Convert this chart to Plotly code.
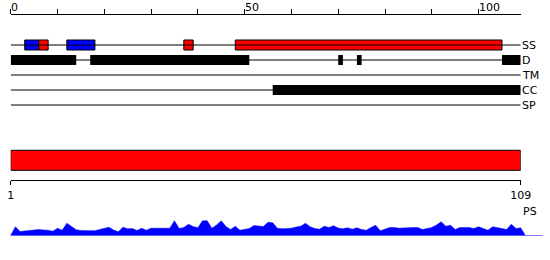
import plotly.graph_objects as go

# ---------------- data ----------------
seq_length = 109
top_tick_values = [0, 10, 20, 30, 40, 50, 60, 70, 80, 90, 100]
top_tick_labels = ["0", "", "", "", "", "50", "", "", "", "", "100"]

track_names = ["SS", "D", "TM", "CC", "SP"]

# secondary structure segments (H = helix, E = strand)
ss_start = [3, 6, 12, 37, 48]
ss_end = [6, 8, 18, 39, 105]
ss_type = ["E", "H", "E", "H", "H"]

# disorder segments
d_start = [0, 17, 70, 74, 105]
d_end = [14, 51, 71, 75, 109]

# transmembrane segments (none)
tm_start = []
tm_end = []

# coiled-coil segments
cc_start = [56]
cc_end = [109]

# signal peptide segments (none)
sp_start = []
sp_end = []

# protein sequence domain (PS)
ps_start = [0]
ps_end = [109]
ps_tick_values = [0, 109]
ps_tick_labels = ["1", "109"]

# per-residue profile (residues 1..109)
profile_residue = list(range(1, 110))
profile_value = [
    8.7, 4.0, 4.5, 4.7, 5.2, 6.0, 5.5, 5.3, 4.3, 7.3,
    5.3, 12.3, 9.0, 5.7, 5.0, 4.7, 4.7, 4.7, 6.0, 7.0,
    8.3, 5.5, 3.7, 8.3, 6.7, 7.0, 5.0, 7.3, 5.3, 7.3,
    7.2, 7.0, 7.2, 7.3, 14.7, 7.0, 8.0, 11.3, 9.0, 7.7,
    14.7, 14.7, 7.3, 10.5, 14.7, 9.0, 6.0, 9.3, 5.3, 6.0,
    7.0, 10.0, 9.5, 9.0, 13.3, 12.7, 7.3, 6.7, 7.0, 7.3,
    8.5, 9.3, 12.3, 8.7, 7.0, 6.3, 9.3, 8.0, 9.7, 7.5,
    6.7, 7.7, 6.3, 7.7, 6.0, 5.3, 8.0, 10.3, 4.7, 6.5,
    8.0, 8.0, 7.3, 7.6, 8.0, 8.0, 8.0, 6.0, 7.0, 8.0,
    10.5, 13.7, 9.3, 10.3, 6.0, 8.0, 8.0, 8.0, 7.0, 8.7,
    7.0, 5.3, 8.7, 7.5, 7.0, 6.0, 11.3, 7.0, 7.7,
]
baseline_extent = [0, 113.7]

# ---------------- styles ----------------
FONT = "DejaVu Sans"
SS_COLORS = {"H": "#ff0000", "E": "#0000ff"}
W, H = 550, 260


def py(px):
    return 1 - px / H


fig = go.Figure()

# track baselines
for i, name in enumerate(track_names):
    fig.add_trace(go.Scatter(
        x=[0, seq_length], y=[i + 1, i + 1], mode="lines",
        line=dict(color="black", width=1), xaxis="x", yaxis="y",
        hoverinfo="skip"))


def add_segments(starts, ends, row, colors, border):
    if not starts:
        return
    fig.add_trace(go.Bar(
        orientation="h",
        base=starts,
        x=[e - s for s, e in zip(starts, ends)],
        y=[row] * len(starts),
        width=0.6667,
        marker=dict(color=colors, line=dict(color="black", width=border)),
        xaxis="x", yaxis="y", hoverinfo="skip"))


add_segments(ss_start, ss_end, 1, [SS_COLORS[t] for t in ss_type], 1)
add_segments(d_start, d_end, 2, ["black"] * len(d_start), 0)
add_segments(tm_start, tm_end, 3, ["black"] * len(tm_start), 0)
add_segments(cc_start, cc_end, 4, ["black"] * len(cc_start), 0)
add_segments(sp_start, sp_end, 5, ["black"] * len(sp_start), 0)

# PS domain box
fig.add_trace(go.Bar(
    orientation="h", base=ps_start,
    x=[e - s for s, e in zip(ps_start, ps_end)],
    y=[0] * len(ps_start), width=1,
    marker=dict(color="#ff0000", line=dict(color="black", width=1)),
    xaxis="x2", yaxis="y2", hoverinfo="skip"))

# profile area
fig.add_trace(go.Scatter(
    x=[baseline_extent[0]] + profile_residue + [seq_length + 1],
    y=[0] + profile_value + [0],
    mode="lines", fill="tozeroy", fillcolor="#0000ff",
    line=dict(color="#0000ff", width=0.5),
    xaxis="x3", yaxis="y3", hoverinfo="skip"))
fig.add_trace(go.Scatter(
    x=baseline_extent, y=[0, 0], mode="lines",
    line=dict(color="#0000ff", width=1),
    xaxis="x3", yaxis="y3", hoverinfo="skip"))

x_left, x_right = 10.7, 520.7
scale = (x_right - x_left) / seq_length
dom = [x_left / W, x_right / W]

common = dict(showgrid=False, zeroline=False, fixedrange=True, automargin=False)

fig.update_layout(
    template="none",
    width=W, height=H,
    margin=dict(l=0, r=0, t=0, b=0, pad=0, autoexpand=False),
    paper_bgcolor="white", plot_bgcolor="rgba(0,0,0,0)",
    showlegend=False, barmode="overlay",
    font=dict(family=FONT, size=11, color="black"),
    xaxis=dict(domain=dom, range=[0, seq_length], anchor="y", side="top",
               showline=True, linecolor="black", linewidth=1,
               ticks="outside", ticklen=5, tickwidth=1, tickcolor="black",
               tickvals=top_tick_values, showticklabels=False, **common),
    yaxis=dict(domain=[py(112), py(15)], range=[5.4667, -1], visible=False,
               **common),
    xaxis2=dict(domain=dom, range=[0, seq_length], anchor="y2", side="bottom",
                showline=True, linecolor="black", linewidth=1,
                ticks="outside", ticklen=4, tickwidth=1, tickcolor="black",
                tickvals=ps_tick_values, ticktext=ps_tick_labels,
                tickfont=dict(family=FONT, size=11, color="black"),
                **common),
    yaxis2=dict(domain=[py(180.3), py(145)], range=[-1, 0.765], visible=False,
                **common),
    xaxis3=dict(domain=[0, 1],
                range=[-x_left / scale, (W - x_left) / scale],
                anchor="y3", visible=False, **common),
    yaxis3=dict(domain=[py(235.5), py(215)], range=[0, 20.5], visible=False,
                **common),
)

annotations = []
for v, t in zip(top_tick_values, top_tick_labels):
    if t:
        annotations.append(dict(
            x=v, y=py(7.5), xref="x", yref="paper", text=t, showarrow=False,
            xanchor="left", yanchor="middle", xshift=-2,
            font=dict(family=FONT, size=11, color="black")))
for i, name in enumerate(track_names):
    annotations.append(dict(
        x=seq_length, y=i + 1, xref="x", yref="y", text=name,
        showarrow=False, xanchor="left", yanchor="middle", xshift=-1,
        font=dict(family=FONT, size=11, color="black")))
annotations.append(dict(
    x=seq_length, y=py(211), xref="x2", yref="paper", text="PS",
    showarrow=False, xanchor="left", yanchor="middle", xshift=0,
    font=dict(family=FONT, size=11, color="black")))
fig.update_layout(annotations=annotations)

fig.write_html("out.html")
